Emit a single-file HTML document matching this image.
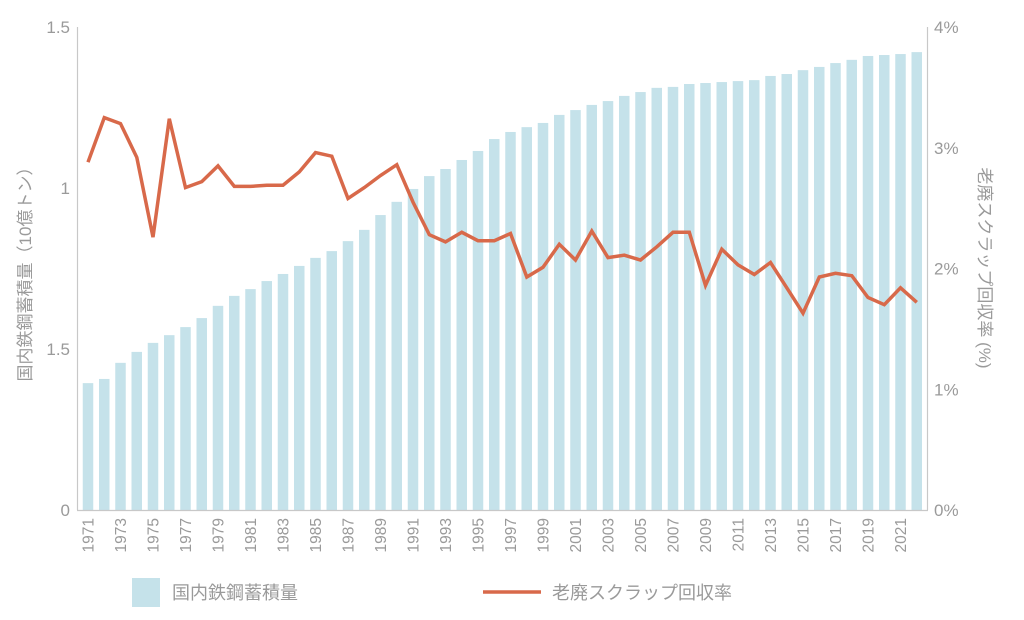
<!DOCTYPE html>
<html><head><meta charset="utf-8"><style>
body{margin:0;background:#fff}
svg text{font-family:"Liberation Sans","Noto Sans CJK JP",sans-serif;fill:#9a9a9a}
</style></head><body>
<svg id="chart" width="1024" height="615" viewBox="0 0 1024 615" xmlns="http://www.w3.org/2000/svg">
<g id="bars"></g>
<g id="axes">
<line x1="77.5" y1="27" x2="77.5" y2="510" stroke="#c8c8c8" stroke-width="1.2"/>
<line x1="927.5" y1="27" x2="927.5" y2="510" stroke="#c8c8c8" stroke-width="1.2"/>
<line x1="77" y1="510.5" x2="928" y2="510.5" stroke="#c8c8c8" stroke-width="1.2"/>
</g>
<g id="line"></g>
<g id="ticks"></g>
<text transform="translate(31,270) rotate(-90)" text-anchor="middle" font-size="17">国内鉄鋼蓄積量（10億トン）</text>
<text transform="translate(979,268) rotate(90)" text-anchor="middle" font-size="17">老廃スクラップ回収率 (%)</text>
<g>
<rect x="132" y="578" width="28" height="29" fill="#c5e2ea"/>
<text x="172" y="599" font-size="18">国内鉄鋼蓄積量</text>
<line x1="483" y1="592" x2="541" y2="592" stroke="#d8694a" stroke-width="3.5"/>
<text x="552" y="599" font-size="18">老廃スクラップ回収率</text>
</g>
</svg>
<script>
const years=[1971,1972,1973,1974,1975,1976,1977,1978,1979,1980,1981,1982,1983,1984,1985,1986,1987,1988,1989,1990,1991,1992,1993,1994,1995,1996,1997,1998,1999,2000,2001,2002,2003,2004,2005,2006,2007,2008,2009,2010,2011,2012,2013,2014,2015,2016,2017,2018,2019,2020,2021,2022];
const stock=[0.394,0.407,0.457,0.491,0.519,0.543,0.568,0.596,0.634,0.665,0.686,0.711,0.733,0.758,0.783,0.804,0.835,0.870,0.916,0.957,0.997,1.037,1.059,1.087,1.115,1.152,1.174,1.189,1.202,1.227,1.242,1.258,1.270,1.286,1.298,1.311,1.314,1.323,1.326,1.329,1.332,1.335,1.348,1.354,1.366,1.376,1.388,1.398,1.410,1.413,1.416,1.422];
const recovery=[2.88,3.25,3.20,2.92,2.26,3.24,2.67,2.72,2.85,2.68,2.68,2.69,2.69,2.80,2.96,2.93,2.58,2.67,2.77,2.86,2.55,2.28,2.22,2.30,2.23,2.23,2.29,1.93,2.01,2.20,2.07,2.31,2.09,2.11,2.07,2.18,2.30,2.30,1.86,2.16,2.03,1.95,2.05,1.84,1.63,1.93,1.96,1.94,1.76,1.70,1.84,1.72];
const leftTicks=[0,0.5,1,1.5];
const leftTickLabels=["0","1.5","1","1.5"];
const rightTicks=[0,1,2,3,4];
const rightTickLabels=["0%","1%","2%","3%","4%"];
const NS="http://www.w3.org/2000/svg";
const X0=88,STEP=16.25,Y0=510,YT=27;
function x(i){return X0+i*STEP;}
function yL(v){return Y0-(v/1.5)*(Y0-YT);}
function yR(v){return Y0-(v/4)*(Y0-YT);}
function mk(t,a,p){const e=document.createElementNS(NS,t);for(const k in a)e.setAttribute(k,a[k]);p.appendChild(e);return e;}
const bars=document.getElementById('bars');
stock.forEach((v,i)=>{
  const r=mk('rect',{x:x(i)-5.25,y:yL(v),width:10.5,height:Y0-yL(v),fill:'#c5e2ea'},bars);
  
  
});
const pts=recovery.map((v,i)=>x(i).toFixed(1)+','+yR(v).toFixed(1)).join(' ');
const pl=mk('polyline',{points:pts,fill:'none',stroke:'#d8694a','stroke-width':3.5,'stroke-linejoin':'miter'},document.getElementById('line'));


const tk=document.getElementById('ticks');
leftTicks.forEach((v,i)=>{
  const t=mk('text',{x:70,y:yL(v)+6,'text-anchor':'end','font-size':17},tk);t.textContent=leftTickLabels[i];
  
  
});
rightTicks.forEach((v,i)=>{
  const t=mk('text',{x:934,y:yR(v)+6,'text-anchor':'start','font-size':17},tk);t.textContent=rightTickLabels[i];
  
  
});
years.forEach((yr,i)=>{
  if(i%2)return;
  const t=mk('text',{transform:`translate(${x(i)+5.5},518) rotate(-90)`,'text-anchor':'end','font-size':15.5},tk);t.textContent=yr;
  
  
});
</script>
</body></html>
